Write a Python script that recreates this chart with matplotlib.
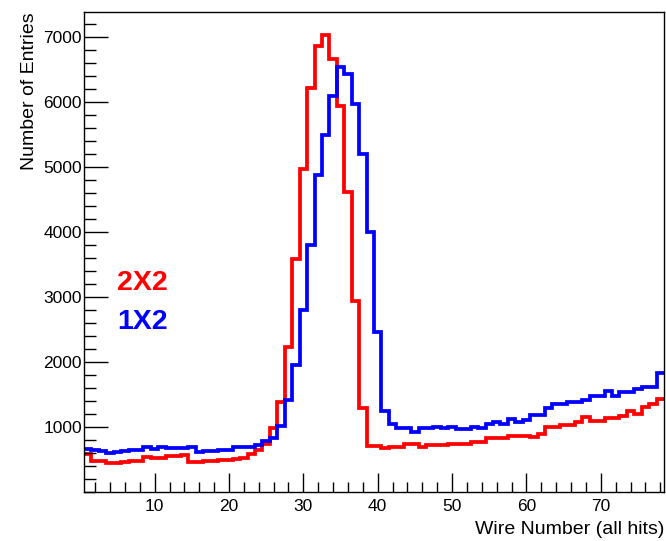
import numpy as np
import matplotlib
matplotlib.use("Agg")
import matplotlib.pyplot as plt
from matplotlib.ticker import MultipleLocator

plt.rcParams['font.family'] = ['Liberation Sans', 'DejaVu Sans']

# Bin centres (wire numbers 1..78)
wires = list(range(1, 79))

counts_2x2 = [585, 482, 470, 440, 440, 467, 470, 482, 533, 523,
              523, 549, 560, 565, 460, 456, 470, 482, 490, 500,
              515, 530, 580, 640, 740, 980, 1385, 2235, 3594, 4980,
              6225, 6865, 7040, 6670, 5950, 4620, 2940, 1290, 712, 712,
              670, 700, 700, 745, 745, 700, 725, 725, 725, 740,
              740, 740, 770, 770, 825, 825, 825, 865, 866, 866,
              851, 900, 1005, 1005, 1030, 1030, 1071, 1148, 1100, 1097,
              1133, 1140, 1164, 1251, 1200, 1302, 1353, 1430]

counts_1x2 = [661, 651, 636, 600, 610, 636, 651, 651, 687, 661,
              697, 677, 671, 671, 697, 610, 636, 636, 646, 646,
              687, 687, 697, 723, 780, 830, 1020, 1420, 1960, 2800,
              3800, 4880, 5490, 6095, 6540, 6430, 5970, 5200, 4000, 2460,
              1250, 1046, 980, 980, 918, 980, 980, 1005, 980, 995,
              970, 970, 1000, 990, 1040, 1081, 1046, 1120, 1080, 1110,
              1179, 1179, 1287, 1353, 1353, 1389, 1389, 1420, 1471, 1471,
              1558, 1482, 1543, 1543, 1584, 1610, 1610, 1825]

labels = ["2X2", "1X2"]
colors = ["#ff0000", "#0000ff"]

W, H = 666, 541
fig = plt.figure(figsize=(W / 100, H / 100), dpi=100)
ax = fig.add_axes([84 / W, (H - 492) / H, 580 / W, 480 / H])

centers = np.array(wires, dtype=float)
edges = np.concatenate([centers - 0.5, [centers[-1] + 0.5]])

for vals, c in zip([counts_2x2, counts_1x2], colors):
    ax.stairs(vals, edges, baseline=None, color=c, lw=2.7)

ax.set_xlim(edges[0], edges[-1])
ax.set_ylim(0, 7390)

ax.xaxis.set_major_locator(MultipleLocator(10))
ax.xaxis.set_minor_locator(MultipleLocator(2))
ax.yaxis.set_major_locator(MultipleLocator(1000))
ax.yaxis.set_minor_locator(MultipleLocator(200))
ax.set_yticks([1000, 2000, 3000, 4000, 5000, 6000, 7000])

ax.tick_params(axis='both', which='both', direction='in', top=False, right=False,
               labelsize=12.5, width=1, colors='black')
ax.tick_params(axis='x', which='major', length=14, pad=5)
ax.tick_params(axis='x', which='minor', length=7)
ax.tick_params(axis='y', which='major', length=17, pad=1.5)
ax.tick_params(axis='y', which='minor', length=8.5)

for s in ax.spines.values():
    s.set_linewidth(1.0)

ax.set_xlabel("Wire Number (all hits)", fontsize=14, loc='right', labelpad=5)
ax.set_ylabel("Number of Entries", fontsize=14, loc='top', labelpad=4)

fig.text(117 / W, 1 - 283 / H, labels[0], color=colors[0], fontsize=20.5,
         fontweight='bold', ha='left', va='center')
fig.text(117 / W, 1 - 322 / H, labels[1], color=colors[1], fontsize=20.5,
         fontweight='bold', ha='left', va='center')

fig.savefig("out.png", dpi=100)
